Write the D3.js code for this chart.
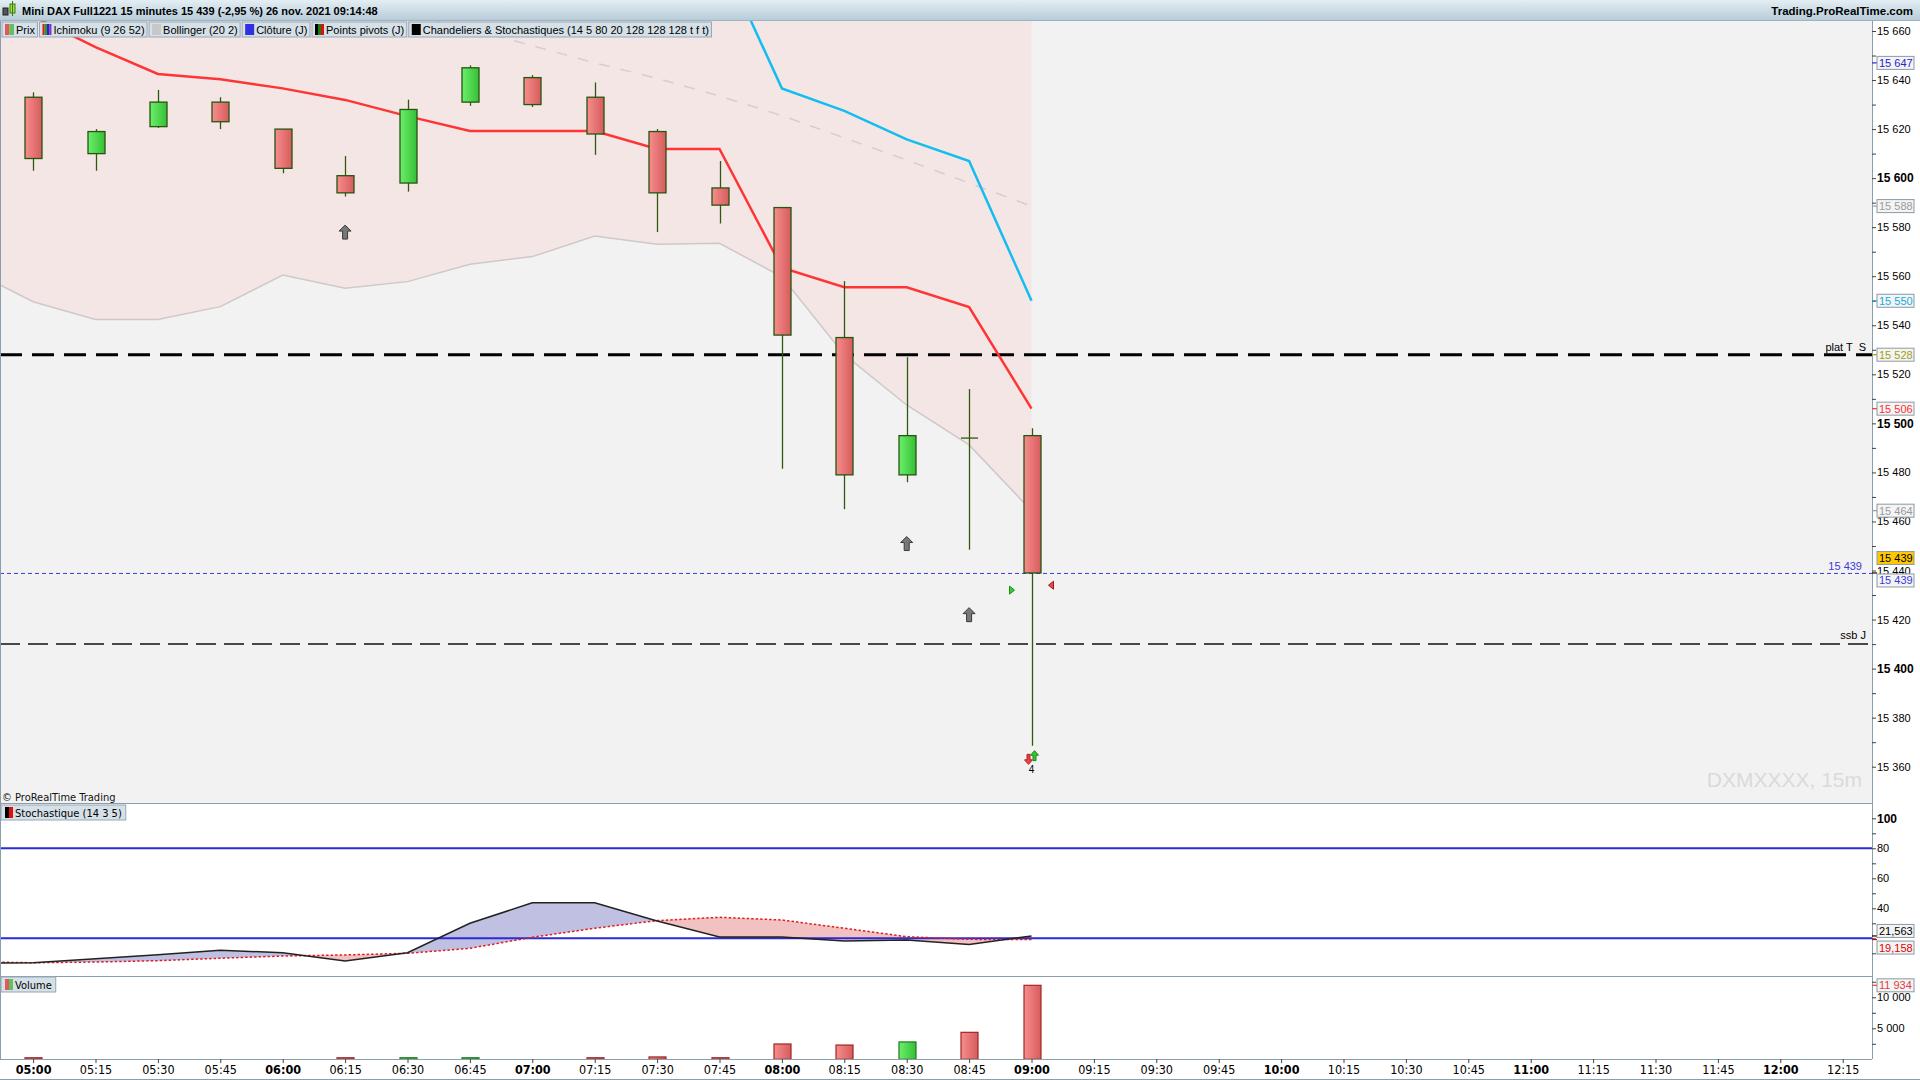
<!DOCTYPE html>
<html><head><meta charset="utf-8">
<script src="https://cdn.jsdelivr.net/npm/d3@7"></script>
<style>
html,body{margin:0;padding:0;background:#fff;overflow:hidden;}
svg{display:block;font-family:"Liberation Sans",Arial,sans-serif;}
.narrow{font-family:"Liberation Sans Narrow","DejaVu Sans Condensed","Liberation Sans",sans-serif;font-stretch:condensed;}
</style></head><body>
<svg id="c" width="1920" height="1080"></svg>
<script>
// ---------- DATA ----------
const times  = ["05:00","05:15","05:30","05:45","06:00","06:15","06:30","06:45","07:00","07:15","07:30","07:45","08:00","08:15","08:30","08:45","09:00"];
const open   = [15633,15610,15621,15631,15620,15601,15598,15631,15641,15633,15619,15596,15588,15535,15479,15494,15495];
const high   = [15635,15620,15636,15633,15620,15609,15632,15646,15642,15639,15620,15607,15588,15558,15527,15514,15498];
const low    = [15603,15603,15620.5,15620,15602,15592.5,15594.5,15629.5,15629,15609.5,15578,15581.5,15481.5,15465,15476,15448.5,15368.5];
const close  = [15608,15619,15631,15623,15604,15594,15628,15645,15630,15618,15594,15589,15536,15479,15495,15494,15439];
const volume = [250,60,60,60,60,250,250,250,60,250,380,250,2470,2300,2800,4350,11934];
const tenkan = [15666,15653.4,15642.5,15640.3,15636.6,15631.9,15625.3,15619.2,15619.2,15619.2,15611.9,15611.9,15563.5,15555.5,15555.5,15547.4,15506];
const kijun  = [null,null,null,null,null,null,null,null,null,null,null,15692,15636.6,15627.4,15615.8,15607,15550];
const bollMid= [null,null,null,null,null,null,15667,15661,15654,15647,15640.7,15633.5,15625.5,15616.4,15607.4,15598,15588.6];
const extTimes = ["04:45"].concat(times);
const bollLow = [15562.5,15549.6,15542.4,15542.4,15547.6,15560.5,15555.1,15557.8,15564.9,15568,15576.4,15573,15573.4,15559.8,15528,15507.5,15491.2,15464.4];
const stochK = [3.3,3.7,6.3,9.1,12,10.4,4.9,10.4,30,43.7,43.7,31.5,20.9,20.9,18.2,18.9,15.8,21.563];
const stochD = [4.4,3.7,4.2,5.1,6.7,8.2,8.9,10,13.3,20.7,26.7,31.8,34,32.2,26.7,21.1,19.3,19.158];
const axisTimes = ["05:00","05:15","05:30","05:45","06:00","06:15","06:30","06:45","07:00","07:15","07:30","07:45","08:00","08:15","08:30","08:45","09:00","09:15","09:30","09:45","10:00","10:15","10:30","10:45","11:00","11:15","11:30","11:45","12:00","12:15"];
const priceTicks = d3.range(15360, 15661, 10);
const stochTicks = [10,20,30,40,50,60,70,80,90,100];
const volTicks = [2500,5000,7500,10000,12500];
const pivotLevel = 15528, ssbLevel = 15410, lastPrice = 15439, prevClose = 15647;
const signals = [
  {t:"06:15", p:15578, k:"grayUp", dx:0},
  {t:"08:30", p:15451, k:"grayUp", dx:0},
  {t:"08:45", p:15422, k:"grayUp", dx:0},
  {t:"09:00", p:15432, k:"greenRight", dx:-20},
  {t:"09:00", p:15434, k:"redLeft", dx:20},
  {t:"09:00", p:15363, k:"redDown", dx:-3},
  {t:"09:00", p:15364.5, k:"greenUp", dx:3}
];
const legendItems = ["Prix","Ichimoku (9 26 52)","Bollinger (20 2)","Clôture (J)","Points pivots (J)","Chandeliers & Stochastiques (14 5 80 20 128 128 128 t f t)"];

// ---------- SETUP ----------
const svg = d3.select("#c");
const W = 1920, H = 1080, AX = 1872;
const loc = d3.formatLocale({decimal:",", thousands:"\u00a0", grouping:[3], currency:["",""]});
const fInt = loc.format(",d"), f3 = loc.format(".3f");
const mins = t => +t.slice(0,2)*60 + +t.slice(3);
const x = d3.scaleLinear().domain([300, 735]).range([33.1, 1842.7]);
const yP = d3.scaleLinear().domain([15360, 15660]).range([766.7, 31]);
const yS = d3.scaleLinear().domain([0, 100]).range([968.3, 818.3]);
const yV = d3.scaleLinear().domain([0, 10000]).range([1059.3, 997.3]);
const P = {top:20, bot:803}, S = {top:803, bot:976}, V = {top:976, bot:1059};

const defs = svg.append("defs");
function grad(id, c1, c2, vertical){
  const g = defs.append("linearGradient").attr("id", id)
    .attr("x1",0).attr("y1",0).attr("x2", vertical?0:1).attr("y2", vertical?1:0);
  g.append("stop").attr("offset","0%").attr("stop-color",c1);
  g.append("stop").attr("offset","100%").attr("stop-color",c2);
}
grad("bear","#f78d8d","#d65c5c");
grad("bull","#6cef6c","#35bf35");
grad("title","#e4eef4","#b7ccd9",true);
defs.append("clipPath").attr("id","clipP").append("rect").attr("x",1).attr("y",P.top).attr("width",AX-1).attr("height",P.bot-P.top);
defs.append("clipPath").attr("id","clipS").append("rect").attr("x",1).attr("y",S.top).attr("width",AX-1).attr("height",S.bot-S.top);

// backgrounds
svg.append("rect").attr("width",W).attr("height",H).attr("fill","#fff");
svg.append("rect").attr("x",0).attr("y",P.top).attr("width",AX).attr("height",P.bot-P.top).attr("fill","#f2f2f2");

// ---------- PRICE PANEL ----------
const gp = svg.append("g").attr("clip-path","url(#clipP)");
const lowPts = extTimes.map((t,i)=>({t, v:bollLow[i]}));
gp.append("path").datum(lowPts)
  .attr("d", d3.area().x(d=>x(mins(d.t))).y0(P.top).y1(d=>yP(d.v)))
  .attr("fill","#f5e6e6");
gp.append("path").datum(lowPts)
  .attr("d", d3.line().x(d=>x(mins(d.t))).y(d=>yP(d.v)))
  .attr("fill","none").attr("stroke","#cfc8c8").attr("stroke-width",1.5);
const lineOf = arr => d3.line().defined((d,i)=>arr[i]!=null).x((d,i)=>x(mins(times[i]))).y((d,i)=>yP(arr[i]))(times);
gp.append("path").attr("d", lineOf(bollMid)).attr("fill","none").attr("stroke","#d9cccc").attr("stroke-width",1.5).attr("stroke-dasharray","11,11");

// horizontal levels
gp.append("line").attr("x1",0).attr("x2",AX).attr("y1",yP(pivotLevel)).attr("y2",yP(pivotLevel))
  .attr("stroke","#000").attr("stroke-width",3).attr("stroke-dasharray","22,10");
gp.append("line").attr("x1",0).attr("x2",AX).attr("y1",yP(ssbLevel)).attr("y2",yP(ssbLevel))
  .attr("stroke","#111").attr("stroke-width",1.5).attr("stroke-dasharray","20,8");
gp.append("line").attr("x1",0).attr("x2",AX).attr("y1",yP(lastPrice)+0.5).attr("y2",yP(lastPrice)+0.5)
  .attr("stroke","#3b3bdc").attr("stroke-width",1).attr("stroke-dasharray","4,3");
svg.append("text").attr("x",1866).attr("y",yP(pivotLevel)-4).attr("text-anchor","end").attr("font-size",11).attr("fill","#000")
  .attr("xml:space","preserve").style("white-space","pre").text("plat T  S");
svg.append("text").attr("x",1866).attr("y",yP(ssbLevel)-5).attr("text-anchor","end").attr("font-size",11).attr("fill","#000").text("ssb J");
svg.append("text").attr("x",1862).attr("y",yP(lastPrice)-3).attr("text-anchor","end").attr("font-size",11).attr("fill","#3b3bdc").text(fInt(lastPrice));

// ichimoku lines
gp.append("path").attr("d", lineOf(kijun)).attr("fill","none").attr("stroke","#14bdf0").attr("stroke-width",2.5);
gp.append("path").attr("d", lineOf(tenkan)).attr("fill","none").attr("stroke","#ff3535").attr("stroke-width",2.5);

// candles
const BW = 17;
const cg = gp.append("g");
times.forEach((t,i)=>{
  const cx = Math.round(x(mins(t)))+0.5;
  cg.append("line").attr("x1",cx).attr("x2",cx).attr("y1",yP(high[i])).attr("y2",yP(low[i])).attr("stroke","#2d5a10").attr("stroke-width",1.3);
  if (open[i]===close[i]) {
    cg.append("line").attr("x1",cx-BW/2).attr("x2",cx+BW/2).attr("y1",yP(open[i])).attr("y2",yP(open[i])).attr("stroke","#2d5a10").attr("stroke-width",1.3);
  } else {
    const bull = close[i]>open[i];
    const yt = yP(Math.max(open[i],close[i])), yb = yP(Math.min(open[i],close[i]));
    cg.append("rect").attr("x",cx-BW/2).attr("y",yt).attr("width",BW).attr("height",Math.max(1,yb-yt))
      .attr("fill", bull?"url(#bull)":"url(#bear)").attr("stroke","#255510").attr("stroke-width",1.3);
  }
});

// signals
const shapes = {
  grayUp:    {d:"M0,-7 L6,-1 L2.5,-1 L2.5,7 L-2.5,7 L-2.5,-1 L-6,-1 Z", fill:"#787878", stroke:"#3a3a3a"},
  greenRight:{d:"M-2,-4 L3,0 L-2,4 Z", fill:"#2fd02f", stroke:"#169016"},
  redLeft:   {d:"M2,-4 L-3,0 L2,4 Z", fill:"#f04848", stroke:"#a01818"},
  redDown:   {d:"M0,5 L4,0.5 L1.5,0.5 L1.5,-5 L-1.5,-5 L-1.5,0.5 L-4,0.5 Z", fill:"#f04040", stroke:"#b02020"},
  greenUp:   {d:"M0,-5 L4,-0.5 L1.5,-0.5 L1.5,5 L-1.5,5 L-1.5,-0.5 L-4,-0.5 Z", fill:"#30c830", stroke:"#188818"}
};
signals.forEach(s=>{
  const sh = shapes[s.k];
  svg.append("path").attr("d",sh.d).attr("transform",`translate(${x(mins(s.t))+s.dx},${yP(s.p)})`)
    .attr("fill",sh.fill).attr("stroke",sh.stroke).attr("stroke-width",1);
});
svg.append("text").attr("x",x(mins("09:00"))).attr("y",yP(15359)+4).attr("text-anchor","middle").attr("font-size",10).text("4");

// watermark & copyright
svg.append("text").attr("x",1862).attr("y",787).attr("text-anchor","end").attr("font-size",21).attr("fill","#dadada").text("DXMXXXX, 15m");
svg.append("text").attr("class","narrow").attr("x",2).attr("y",801).attr("font-size",11).attr("fill","#111").text("© ProRealTime Trading");

// ---------- STOCH PANEL ----------
const gs = svg.append("g").attr("clip-path","url(#clipS)");
const sx = (d,i)=>x(mins(extTimes[i]));
const aboveD = d3.area().x(sx).y0(S.top).y1((d,i)=>yS(stochD[i]));
const belowD = d3.area().x(sx).y0(S.bot).y1((d,i)=>yS(stochD[i]));
defs.append("clipPath").attr("id","cAbove").append("path").attr("d",aboveD(extTimes));
defs.append("clipPath").attr("id","cBelow").append("path").attr("d",belowD(extTimes));
gs.append("path").attr("d", d3.area().x(sx).y0(S.bot).y1((d,i)=>yS(stochK[i]))(extTimes)).attr("clip-path","url(#cAbove)").attr("fill","#bfc0e2");
gs.append("path").attr("d", d3.area().x(sx).y0(S.top).y1((d,i)=>yS(stochK[i]))(extTimes)).attr("clip-path","url(#cBelow)").attr("fill","#f2c1c1");
[80,20].forEach(v=>gs.append("line").attr("x1",0).attr("x2",AX).attr("y1",yS(v)).attr("y2",yS(v)).attr("stroke","#2a2ad6").attr("stroke-width",2));
gs.append("path").attr("d", d3.line().x(sx).y((d,i)=>yS(stochD[i]))(extTimes)).attr("fill","none").attr("stroke","#e02020").attr("stroke-width",1.5).attr("stroke-dasharray","2.5,2");
gs.append("path").attr("d", d3.line().x(sx).y((d,i)=>yS(stochK[i]))(extTimes)).attr("fill","none").attr("stroke","#222").attr("stroke-width",1.5);

// ---------- VOLUME PANEL ----------
times.forEach((t,i)=>{
  const cx = Math.round(x(mins(t)))+0.5;
  const bull = close[i]>open[i];
  const yt = yV(volume[i]);
  if (yV(0)-yt < 1) return; // sub-pixel bars are not visible
  svg.append("rect").attr("x",cx-BW/2).attr("y",yt).attr("width",BW).attr("height",yV(0)-yt)
    .attr("fill", bull?"url(#bull)":"url(#bear)").attr("stroke", bull?"#1f7a1f":"#a02626").attr("stroke-width",1.2);
});

// ---------- FRAME LINES ----------
const frame = "#8a9eab";
svg.append("line").attr("x1",0).attr("x2",AX).attr("y1",P.bot+0.5).attr("y2",P.bot+0.5).attr("stroke",frame);
svg.append("line").attr("x1",0).attr("x2",AX).attr("y1",S.bot+0.5).attr("y2",S.bot+0.5).attr("stroke",frame);
svg.append("line").attr("x1",0).attr("x2",AX).attr("y1",V.bot+0.5).attr("y2",V.bot+0.5).attr("stroke",frame);
svg.append("line").attr("x1",AX+0.5).attr("x2",AX+0.5).attr("y1",P.top).attr("y2",V.bot).attr("stroke",frame);
svg.append("line").attr("x1",0.5).attr("x2",0.5).attr("y1",P.top).attr("y2",V.bot).attr("stroke",frame);
svg.append("line").attr("x1",0).attr("x2",W).attr("y1",H-0.5).attr("y2",H-0.5).attr("stroke",frame);

// ---------- AXES ----------
const pAx = svg.append("g").attr("transform",`translate(${AX},0)`)
  .call(d3.axisRight(yP).tickValues(priceTicks).tickSize(4).tickPadding(1).tickFormat(v=> v%20===0? fInt(v):""));
pAx.select(".domain").remove();
pAx.selectAll("line").attr("stroke","#444");
pAx.selectAll("text").attr("font-family",null).attr("font-size",d=>d%100===0?12:11).attr("font-weight",d=>d%100===0?"bold":null).attr("fill","#000");

const sAx = svg.append("g").attr("transform",`translate(${AX},0)`)
  .call(d3.axisRight(yS).tickValues(stochTicks).tickSize(4).tickPadding(1).tickFormat(v=> (v%20===0 && v>=40)? v:""));
sAx.select(".domain").remove();
sAx.selectAll("line").attr("stroke","#444");
sAx.selectAll("text").attr("font-family",null).attr("font-size",d=>d===100?12:11).attr("font-weight",d=>d===100?"bold":null).attr("fill","#000");

const vAx = svg.append("g").attr("transform",`translate(${AX},0)`)
  .call(d3.axisRight(yV).tickValues(volTicks).tickSize(4).tickPadding(1).tickFormat(v=> v%5000===0? fInt(v):""));
vAx.select(".domain").remove();
vAx.selectAll("line").attr("stroke","#444");
vAx.selectAll("text").attr("font-family",null).attr("font-size",11).attr("fill","#000");

const xAx = svg.append("g").attr("transform",`translate(0,${V.bot})`)
  .call(d3.axisBottom(x).tickValues(axisTimes.map(mins)).tickSize(4).tickPadding(2).tickFormat((d,i)=>axisTimes[i]));
xAx.select(".domain").remove();
xAx.selectAll("line").attr("stroke","#444");
xAx.selectAll("text").attr("font-family",null).attr("class","narrow").attr("font-size",12.5)
  .attr("font-weight",(d,i)=>axisTimes[i].endsWith(":00")?"bold":null).attr("fill","#000");

// value boxes on the right axis
function valBox(yc, label, color, fill, tickY, tickColor){
  if (tickY!=null) svg.append("line").attr("x1",AX).attr("x2",AX+5).attr("y1",tickY).attr("y2",tickY).attr("stroke",tickColor||color).attr("stroke-width",1.2);
  svg.append("rect").attr("x",AX+5).attr("y",yc-6.5).attr("width",37).attr("height",13).attr("fill",fill).attr("stroke","#8a9aa6");
  svg.append("text").attr("x",AX+7).attr("y",yc+4).attr("font-size",11).attr("fill",color).text(label);
}
valBox(yP(prevClose), fInt(prevClose), "#2525d0", "#f4f4f4", yP(prevClose));
valBox(yP(bollMid[16]), fInt(Math.round(bollMid[16]-0.6)), "#9a9a9a", "#f4f4f4", yP(bollMid[16]));
valBox(yP(kijun[16]), fInt(kijun[16]), "#12aee0", "#f4f4f4", yP(kijun[16]));
valBox(yP(pivotLevel), fInt(pivotLevel), "#a0a010", "#f4f4f4", yP(pivotLevel));
valBox(yP(tenkan[16]), fInt(tenkan[16]), "#ff3030", "#f4f4f4", yP(tenkan[16]));
valBox(yP(bollLow[17]), fInt(Math.round(bollLow[17])), "#9a9a9a", "#f4f4f4", yP(bollLow[17]));
valBox(yP(lastPrice)-15, fInt(lastPrice), "#000", "#ffc800", yP(lastPrice), "#000");
valBox(yP(lastPrice)+7.5, fInt(lastPrice), "#3b3bdc", "#f4f4f4", null);
valBox(yS(stochK[17])-5, f3(stochK[17]), "#000", "#f4f4f4", yS(stochK[17]), "#000");
valBox(yS(stochD[17])+8, f3(stochD[17]), "#e00000", "#f4f4f4", yS(stochD[17]), "#e00000");
valBox(yV(volume[16]), fInt(volume[16]), "#e04040", "#f4f4f4", yV(volume[16]));

// ---------- HEADER ----------
svg.append("rect").attr("x",0).attr("y",0).attr("width",W).attr("height",20).attr("fill","url(#title)");
svg.append("line").attr("x1",0).attr("x2",W).attr("y1",20.5).attr("y2",20.5).attr("stroke","#9fb2be");
svg.append("rect").attr("x",3).attr("y",8).attr("width",5).attr("height",7).attr("fill","#555").attr("stroke","#222");
svg.append("rect").attr("x",10).attr("y",4).attr("width",5).attr("height",9).attr("fill","#9be23a").attr("stroke","#3d7a10");
svg.append("line").attr("x1",12.5).attr("x2",12.5).attr("y1",1).attr("y2",16).attr("stroke","#3d7a10");
svg.append("text").attr("x",22).attr("y",14.5).attr("font-size",11).attr("font-weight","bold").attr("fill","#000")
  .text("Mini DAX Full1221 15 minutes 15 439 (-2,95 %) 26 nov. 2021 09:14:48");
svg.append("text").attr("x",1913).attr("y",14.5).attr("text-anchor","end").attr("font-size",11.5).attr("font-weight","bold").attr("fill","#000")
  .text("Trading.ProRealTime.com");

// legend boxes
const swatch = [
  g=>{g.append("rect").attr("width",4.5).attr("height",11).attr("fill","#e05a5a");g.append("rect").attr("x",4.5).attr("width",4.5).attr("height",11).attr("fill","#5ec25e");},
  g=>{["#e02020","#20a020","#2020e0","#9030c0"].forEach((c,k)=>g.append("rect").attr("x",k*2.25).attr("width",2.25).attr("height",11).attr("fill",c));},
  g=>{g.append("rect").attr("width",9).attr("height",11).attr("fill","#c8c8c8");},
  g=>{g.append("rect").attr("width",9).attr("height",11).attr("fill","#3030e0");},
  g=>{["#000","#108010","#e01010"].forEach((c,k)=>g.append("rect").attr("x",k*3).attr("width",3).attr("height",11).attr("fill",c));},
  g=>{g.append("rect").attr("width",9).attr("height",11).attr("fill","#000");}
];
let lx = 2;
legendItems.forEach((t,i)=>{
  const g = svg.append("g").attr("transform",`translate(${lx},22)`);
  const rect = g.append("rect").attr("y",0).attr("height",15).attr("fill","#d5e0e7").attr("stroke","#95a8b5");
  const sw = g.append("g").attr("transform","translate(3,2)"); swatch[i](sw);
  const tx = g.append("text").attr("x",14).attr("y",11.5).attr("font-size",11).attr("fill","#000").text(t);
  const w = tx.node().getComputedTextLength() + 16.5;
  rect.attr("width", w);
  lx += w + 2;
});
function smallLegend(y, label, colors){
  const g = svg.append("g").attr("transform",`translate(1,${y})`);
  const rect = g.append("rect").attr("height",15).attr("fill","#d5e0e7").attr("stroke","#95a8b5");
  colors.forEach((c,k)=>g.append("rect").attr("x",4+k*4).attr("y",2).attr("width",4).attr("height",11).attr("fill",c));
  const tx = g.append("text").attr("class","narrow").attr("x",14).attr("y",11.5).attr("font-size",11).attr("fill","#000").text(label);
  rect.attr("width", tx.node().getComputedTextLength()+18);
}
smallLegend(805, "Stochastique (14 3 5)", ["#000","#e01010"]);
smallLegend(977, "Volume", ["#e05a5a","#5ec25e"]);
</script>
</body></html>
